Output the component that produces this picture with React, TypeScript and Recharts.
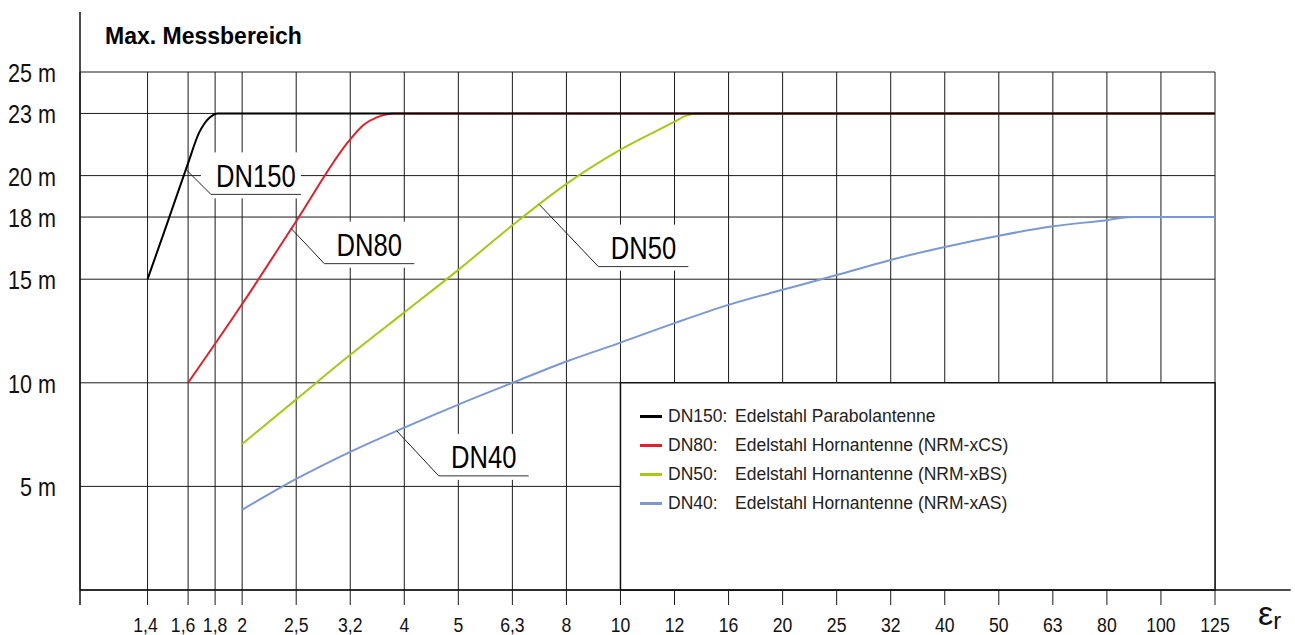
import {
    CartesianGrid,
    Legend,
    Line,
    LineChart,
    ReferenceArea,
    ReferenceDot,
    ReferenceLine,
    XAxis,
    YAxis,
} from 'recharts';

// x runs on the R10 grid: 10 steps per decade, step 0 = εr 1
const EPS_LABELS = ['1,4', '1,6', '1,8', '2', '2,5', '3,2', '4', '5', '6,3', '8', '10', '12', '16', '20', '25', '32', '40', '50', '63', '80', '100', '125'];
const EPS_STEPS = [1.25, 2, 2.5, 3, 4, 5, 6, 7, 8, 9, 10, 11, 12, 13, 14, 15, 16, 17, 18, 19, 20, 21];

const RANGE_TICKS = [5, 10, 15, 18, 20, 23, 25];

const DN150_STEP = [1.25, 1.6, 2.0, 2.2, 2.3, 2.4, 2.55, 21];
const DN150_M = [15, 17.6, 20.6, 22.05, 22.5, 22.8, 23, 23];

const DN80_STEP = [2, 3, 4, 5, 5.25, 5.5, 5.8, 21];
const DN80_M = [10, 13.8, 17.8, 21.75, 22.45, 22.82, 23, 23];

const DN50_STEP = [3, 4, 5, 6, 7, 8, 9, 10, 11, 11.2, 11.45, 21];
const DN50_M = [7.05, 9.2, 11.35, 13.4, 15.45, 17.6, 19.6, 21.25, 22.6, 22.88, 23, 23];

const DN40_STEP = [3, 4, 5, 6, 7, 8, 9, 10, 11, 12, 13, 14, 15, 16, 17, 18, 19, 19.45, 21];
const DN40_M = [3.87, 5.36, 6.67, 7.84, 8.95, 10.0, 11.03, 11.94, 12.88, 13.76, 14.49, 15.2, 15.93, 16.55, 17.1, 17.55, 17.85, 18, 18];

const SERIES_NAMES = ['DN150', 'DN80', 'DN50', 'DN40'];
const SERIES_DESC = [
    'Edelstahl Parabolantenne',
    'Edelstahl Hornantenne (NRM-xCS)',
    'Edelstahl Hornantenne (NRM-xBS)',
    'Edelstahl Hornantenne (NRM-xAS)',
];
const SERIES_COLORS = ['#000000', '#e3202a', '#a9c813', '#7a99d4'];

// where the leader lines touch each curve
const CALLOUT_STEP = [1.96, 3.91, 8.5, 5.86];
const CALLOUT_M = [20.3, 17.44, 18.6, 7.68];

const toPoints = (steps: number[], values: number[]) =>
    steps.map((step, i) => ({ step, m: values[i] }));

const SERIES_DATA = [
    toPoints(DN150_STEP, DN150_M),
    toPoints(DN80_STEP, DN80_M),
    toPoints(DN50_STEP, DN50_M),
    toPoints(DN40_STEP, DN40_M),
];

const FONT = '"Liberation Sans", Arial, Helvetica, sans-serif';
const INK = '#1a1a1a';
const LEADER_OFFSETS = [
    [25, 25],
    [33, 35],
    [59, 62],
    [42, 45],
];
// the crowded labels left of "2" sit a little off their grid lines
const TICK_NUDGE: Record<string, number> = { '1,4': -2, '1,6': -5 };

const EpsTick = ({ x, y, payload }: any) => {
    const label = EPS_LABELS[EPS_STEPS.indexOf(payload.value)];
    const nudge = TICK_NUDGE[label] ?? 0;
    return (
        <text
            transform={`translate(${x + nudge},${y + 24.5}) scale(0.84,1)`}
            textAnchor='middle'
            fontSize={21}
            fontFamily={FONT}
            fill='#111'
        >
            {label}
        </text>
    );
};

const RangeTick = ({ x, y, payload }: any) => (
    <text
        transform={`translate(${x},${y + 10}) scale(0.83,1)`}
        textAnchor='end'
        fontSize={26}
        fontFamily={FONT}
        fill='#111'
    >
        {`${payload.value} m`}
    </text>
);

const Callout = ({ cx, cy, text, dx, dy }: any) => {
    const ux = cx + dx;
    const uy = cy + dy;
    const len = 90;
    return (
        <g>
            <rect x={ux - 10} y={uy - 42} width={len + 10} height={46} fill='#fff' />
            <line x1={cx} y1={cy} x2={ux} y2={uy} stroke='#222' strokeWidth={1} />
            <line x1={ux} y1={uy} x2={ux + len} y2={uy} stroke='#333' strokeWidth={1} />
            <text
                transform={`translate(${ux + len / 2},${uy - 7.6}) scale(0.8,1)`}
                textAnchor='middle'
                fontSize={32}
                fontFamily={FONT}
                fill='#000'
            >
                {text}
            </text>
        </g>
    );
};

const LegendBox = () => (
    <div style={{ fontFamily: FONT, fontSize: 17.5, color: '#222' }}>
        {SERIES_NAMES.map((name, i) => (
            <div
                key={name}
                style={{ display: 'flex', alignItems: 'center', height: 29, whiteSpace: 'nowrap' }}
            >
                <span
                    style={{
                        display: 'inline-block',
                        width: 22,
                        height: 2.5,
                        background: SERIES_COLORS[i],
                        marginRight: 6,
                    }}
                />
                <span style={{ display: 'inline-block', width: 67 }}>{name}:</span>
                <span>{SERIES_DESC[i]}</span>
            </div>
        ))}
    </div>
);

export default function App() {
    return (
        <div
            style={{
                position: 'absolute',
                left: 0,
                top: 0,
                width: 1295,
                height: 635,
                background: '#fff',
                fontFamily: FONT,
            }}
        >
            <LineChart width={1295} height={635} margin={{ top: 72, right: 80, bottom: 5, left: 10 }}>
                <CartesianGrid stroke={INK} strokeWidth={1} />
                <XAxis
                    type='number'
                    dataKey='step'
                    domain={[0, 21]}
                    ticks={EPS_STEPS}
                    interval={0}
                    allowDataOverflow
                    height={40}
                    axisLine={false}
                    tickLine={{ stroke: INK }}
                    tickSize={15}
                    tick={(p: any) => <EpsTick {...p} />}
                />
                <YAxis
                    type='number'
                    domain={[0, 25]}
                    ticks={RANGE_TICKS}
                    interval={0}
                    allowDataOverflow
                    width={70}
                    axisLine={false}
                    tickLine={false}
                    tickSize={8}
                    tickMargin={16}
                    tick={(p: any) => <RangeTick {...p} />}
                />
                <ReferenceArea
                    x1={10}
                    x2={21}
                    y1={0}
                    y2={10}
                    fill='#fff'
                    fillOpacity={1}
                    stroke='#111'
                    strokeWidth={1.5}
                    ifOverflow='visible'
                />
                <ReferenceLine
                    segment={[
                        { x: 0, y: -0.72 },
                        { x: 0, y: 27.9 },
                    ]}
                    ifOverflow='visible'
                    stroke='#111'
                    strokeWidth={1.5}
                />
                <ReferenceLine
                    segment={[
                        { x: 0, y: 0 },
                        { x: 22.4, y: 0 },
                    ]}
                    ifOverflow='visible'
                    stroke='#111'
                    strokeWidth={1.5}
                />
                {SERIES_NAMES.map((name, i) => (
                    <ReferenceDot
                        key={`callout-${name}`}
                        x={CALLOUT_STEP[i]}
                        y={CALLOUT_M[i]}
                        r={0}
                        shape={(p: any) => (
                            <Callout
                                cx={p.cx}
                                cy={p.cy}
                                text={name}
                                dx={LEADER_OFFSETS[i][0]}
                                dy={LEADER_OFFSETS[i][1]}
                            />
                        )}
                    />
                ))}
                {[3, 2, 1, 0].map((i) => (
                    <Line
                        key={SERIES_NAMES[i]}
                        data={SERIES_DATA[i]}
                        dataKey='m'
                        name={SERIES_NAMES[i]}
                        type='monotone'
                        stroke={SERIES_COLORS[i]}
                        strokeWidth={2}
                        dot={false}
                        activeDot={false}
                        isAnimationActive={false}
                    />
                ))}
                <Legend
                    layout='vertical'
                    verticalAlign='middle'
                    align='center'
                    content={() => <LegendBox />}
                    wrapperStyle={{ position: 'absolute', left: 640, top: 402, width: 'auto' }}
                />
            </LineChart>
            <div
                style={{
                    position: 'absolute',
                    left: 105,
                    top: 25,
                    fontSize: 23,
                    lineHeight: '23px',
                    fontWeight: 700,
                    color: '#000',
                    whiteSpace: 'nowrap',
                }}
            >
                Max. Messbereich
            </div>
            <div
                style={{
                    position: 'absolute',
                    left: 1258,
                    top: 598,
                    fontSize: 34,
                    lineHeight: '30px',
                    color: '#111',
                    whiteSpace: 'nowrap',
                }}
            >
                ε<span style={{ fontSize: 24, position: 'relative', top: 4 }}>r</span>
            </div>
        </div>
    );
}
